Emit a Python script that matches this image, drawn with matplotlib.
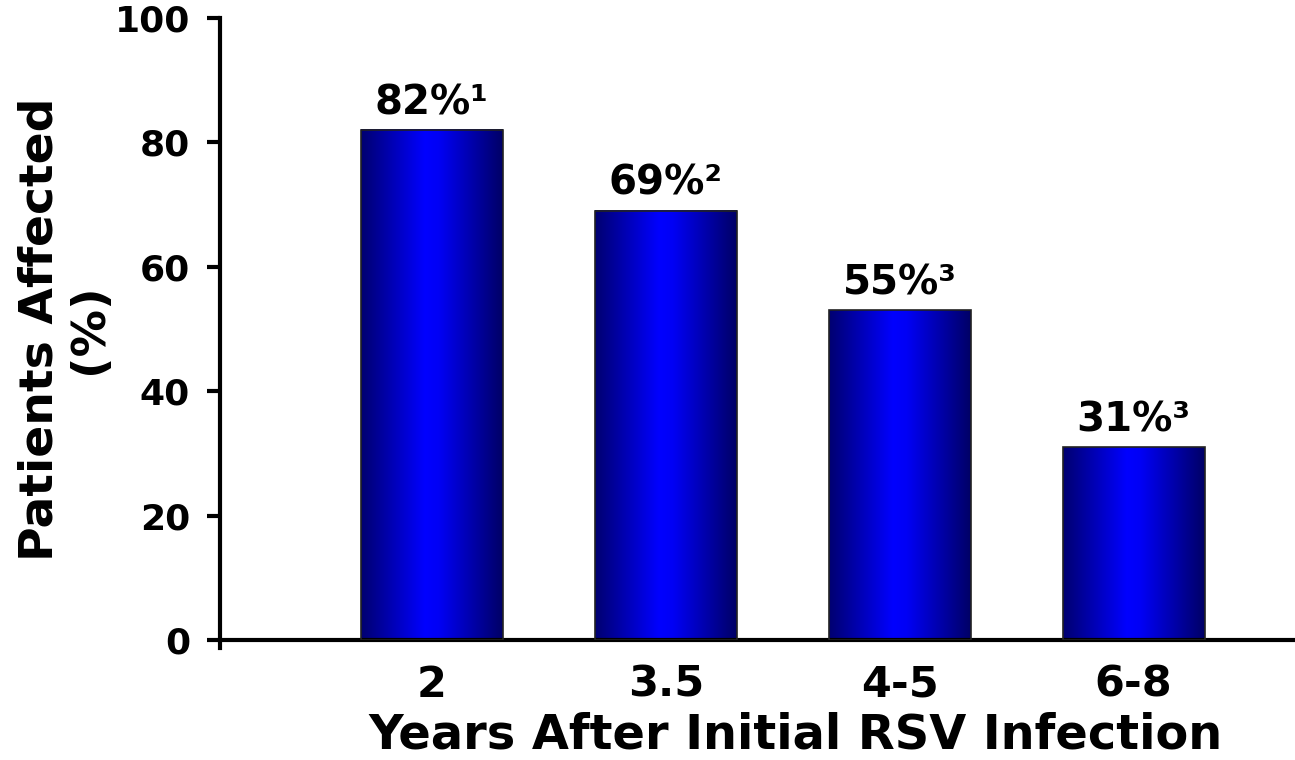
import matplotlib.pyplot as plt
import numpy as np
from matplotlib.colors import LinearSegmentedColormap

# Datos del gráfico
categorias = ['2', '3.5', '4-5', '6-8']
valores = [82, 69, 53, 31]
etiquetas = ['82%¹', '69%²', '55%³', '31%³']

plt.rcParams['font.family'] = 'DejaVu Sans'
plt.rcParams['font.weight'] = 'bold'

fig = plt.figure(figsize=(12.95, 7.6), dpi=100)
ax = fig.add_axes([220 / 1295, 1 - 640 / 760, 1 - 220 / 1295, 622 / 760])

x = np.arange(len(categorias))
ancho = 0.607

# degradado horizontal: azul oscuro en los bordes, azul brillante en el centro
cmap = LinearSegmentedColormap.from_list(
    'barra', [(0, '#000070'), (0.45, '#0000ff'), (0.55, '#0000f5'), (1, '#000066')])
grad = np.linspace(0, 1, 256).reshape(1, -1)

barras = ax.bar(x, valores, width=ancho, color='none', edgecolor='#222222', linewidth=1.2, zorder=3)
for b in barras:
    x0, y0 = b.get_x(), b.get_y()
    w, h = b.get_width(), b.get_height()
    ax.imshow(grad, cmap=cmap, extent=[x0, x0 + w, y0, y0 + h], aspect='auto', zorder=2)

for xi, v, et in zip(x, valores, etiquetas):
    ax.text(xi, v + 1.1, et, ha='center', va='bottom', fontsize=29, fontweight='bold')

ax.set_xlim(-0.906, 3.69)
ax.set_ylim(0, 100)
ax.set_yticks([0, 20, 40, 60, 80, 100])
ax.set_xticks(x)
ax.set_xticklabels(categorias, fontsize=31, fontweight='bold')
ax.tick_params(axis='y', labelsize=26, width=3, length=9.5, pad=12)
ax.tick_params(axis='x', length=0, pad=17)

ax.spines['top'].set_visible(False)
ax.spines['right'].set_visible(False)
ax.spines['left'].set_linewidth(3)
ax.spines['bottom'].set_linewidth(3)
ax.spines['left'].set_bounds(-1.3, 100)

ax.set_xlabel('Years After Initial RSV Infection', fontsize=34.5, fontweight='bold')
ax.xaxis.set_label_coords(0.535, -0.115)
ax.set_ylabel('Patients Affected\n(%)', fontsize=34, fontweight='bold', linespacing=1.13)
ax.yaxis.set_label_coords(-0.1, 0.5)

fig.savefig('out.png', dpi=100)
